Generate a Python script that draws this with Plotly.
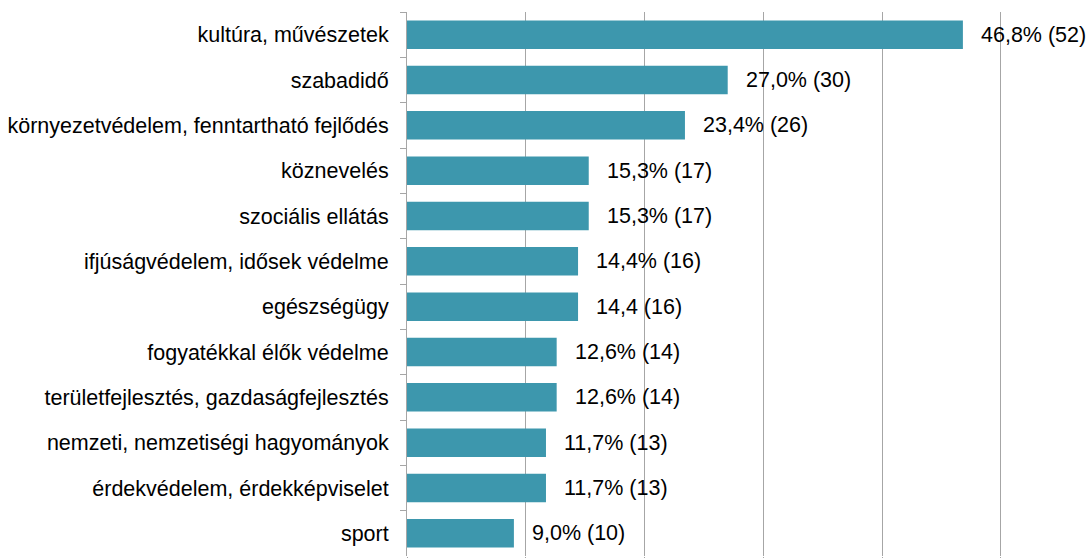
import plotly.graph_objects as go

categories = [
    "kultúra, művészetek",
    "szabadidő",
    "környezetvédelem, fenntartható fejlődés",
    "köznevelés",
    "szociális ellátás",
    "ifjúságvédelem, idősek védelme",
    "egészségügy",
    "fogyatékkal élők védelme",
    "területfejlesztés, gazdaságfejlesztés",
    "nemzeti, nemzetiségi hagyományok",
    "érdekvédelem, érdekképviselet",
    "sport",
]
percents = [46.8, 27.0, 23.4, 15.3, 15.3, 14.4, 14.4, 12.6, 12.6, 11.7, 11.7, 9.0]
labels = [
    "46,8% (52)", "27,0% (30)", "23,4% (26)", "15,3% (17)", "15,3% (17)",
    "14,4% (16)", "14,4 (16)", "12,6% (14)", "12,6% (14)", "11,7% (13)",
    "11,7% (13)", "9,0% (10)",
]

font = "Liberation Sans, Arial, sans-serif"
grey = "#a6a6a6"
fsize = 21.5

fig = go.Figure(go.Bar(
    x=percents, y=categories, orientation="h",
    marker=dict(color="#3d97ad", line=dict(width=0)),
    width=0.63,
))

for c, v, t in zip(categories, percents, labels):
    fig.add_annotation(x=v, y=c, text=t, showarrow=False, xanchor="left",
                       xshift=16, font=dict(family=font, size=fsize, color="black"))

fig.update_layout(
    width=1090, height=558,
    margin=dict(l=407, r=0, t=12, b=2, autoexpand=False),
    plot_bgcolor="white", paper_bgcolor="white",
    showlegend=False,
    font=dict(family=font, size=fsize, color="black"),
)
fig.update_xaxes(
    range=[0, 57.5], dtick=10, tick0=0,
    showgrid=True, gridcolor=grey, gridwidth=1,
    showline=False, zeroline=False,
    ticks="outside", ticklen=6, tickcolor=grey,
    showticklabels=False, automargin=False,
)
fig.update_yaxes(
    autorange="reversed",
    showline=True, linecolor=grey, linewidth=1,
    ticks="outside", ticklen=6, tickcolor=grey, tickson="boundaries",
    ticklabelstandoff=13,
    showgrid=False, automargin=False,
)

fig.write_html("out.html", config={"displayModeBar": False},
               post_script="document.body.style.margin='0';")
